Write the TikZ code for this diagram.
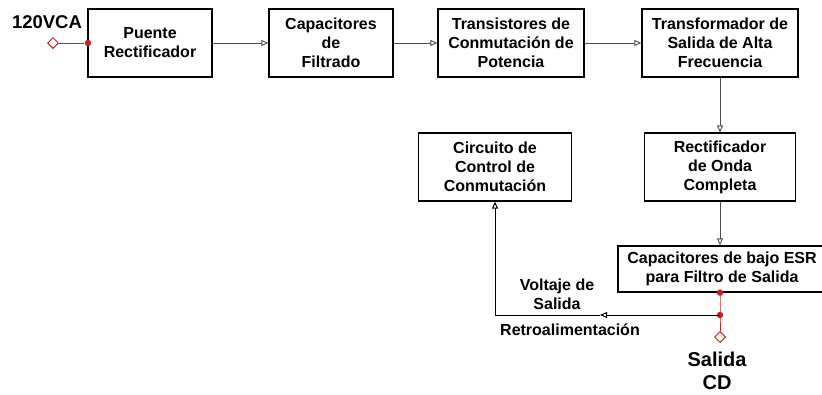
\documentclass[tikz,border=0pt]{standalone}
\usepackage{fontspec}
\setmainfont{Liberation Sans}
\usetikzlibrary{arrows.meta,shapes.geometric}
\definecolor{wirered}{RGB}{200,35,35}

\begin{document}
\begin{tikzpicture}[x=1pt, y=-1pt, thick, >={Triangle[open,length=7pt,width=6pt]},
    every node/.style={font=\bfseries\fontsize{16}{19}\selectfont, align=center},
    block/.style={draw, line width=1.2pt, minimum height=68pt, inner sep=2pt},
    link/.style={draw=black!70, line width=0.9pt},
    redwire/.style={draw=wirered, line width=1pt},
    reddot/.style={circle, fill=wirered, inner sep=0pt, minimum size=6.5pt},
    terminal/.style={diamond, draw=wirered, line width=1pt, inner sep=0pt, minimum size=11pt}]
    \useasboundingbox (0,0) rectangle (822,394);
    \node[block, minimum width=124pt] (puente) at (150,43) {Puente\\Rectificador};
    \node[block, minimum width=124pt] (capfil) at (331,43) {Capacitores\\de\\Filtrado};
    \node[block, minimum width=146pt] (trans) at (511,43) {Transistores de\\Conmutación de\\Potencia};
    \node[block, minimum width=156pt] (transf) at (720,43) {Transformador de\\Salida de Alta\\Frecuencia};
    \node[block, minimum width=153pt] (control) at (495,167) {Circuito de\\Control de\\Conmutación};
    \node[block, minimum width=151pt] (onda) at (720,167) {Rectificador\\de Onda\\Completa};
    \node[block, minimum width=208pt, minimum height=46pt] (esr) at (722,269) {Capacitores de bajo ESR\\para Filtro de Salida};
    % entrada
    \node[font=\bfseries\fontsize{18.5}{20}\selectfont] (vca) at (47,22) {120VCA};
    \node[terminal] (vin) at (53,43) {};
    \node[reddot] (vindot) at (88,43) {};
    \draw[redwire] (vin) -- (vindot);
    \draw[link, ->] (puente) -- (capfil);
    \draw[link, ->] (capfil) -- (trans);
    \draw[link, ->] (trans) -- (transf);
    \draw[link, ->] (transf) -- (onda);
    \draw[link, ->] (onda.south) -- (onda.south |- esr.north);
    % salida
    \coordinate (esrout) at (onda.south |- esr.south);
    \coordinate (tap) at (720,315);
    \node[terminal] (vout) at (720,337) {};
    \draw[redwire] (esrout) -- (tap) -- (vout);
    \node[reddot] at (esrout) {};
    \node[reddot] at (tap) {};
    \node[font=\bfseries\fontsize{20}{23}\selectfont] (salida) at (717,371) {Salida\\CD};
    % realimentacion
    \coordinate (fbmid) at (600,315);
    \coordinate (fbcorner) at (control.south |- tap);
    \draw[line width=1pt, ->] (tap) -- (fbmid);
    \draw[line width=1pt, ->] (fbmid) -- (fbcorner) -- (control.south);
    \node (volt) at (557,294) {Voltaje de\\Salida};
    \node (retro) at (570,330) {Retroalimentación};
\end{tikzpicture}
\end{document}
